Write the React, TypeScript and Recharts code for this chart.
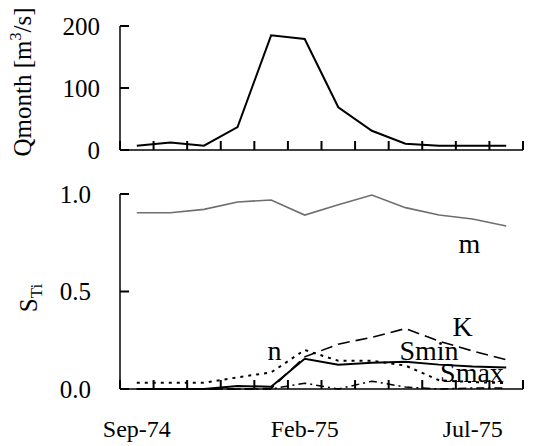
import { LineChart, Line, XAxis, YAxis, ReferenceDot, ReferenceLine } from "recharts"

const months = ["Sep-74", "Oct-74", "Nov-74", "Dec-74", "Jan-75", "Feb-75", "Mar-75", "Apr-75", "May-75", "Jun-75", "Jul-75", "Aug-75"]
const shownMonths = ["Sep-74", "Feb-75", "Jul-75"]

// monthly discharge [m3/s]
const qmonth = [7, 12, 7, 37, 185, 179, 69, 31, 10, 7, 7, 7]

// total sensitivity indices per parameter
const mIdx = [0.904, 0.904, 0.921, 0.959, 0.969, 0.892, 0.945, 0.995, 0.93, 0.892, 0.872, 0.836]
const kIdx = [0, 0, 0, 0, 0.003, 0.165, 0.23, 0.265, 0.31, 0.245, 0.195, 0.15]
const nIdx = [0.032, 0.032, 0.032, 0.06, 0.085, 0.2, 0.145, 0.145, 0.12, 0.045, 0.035, 0.03]
const sminIdx = [0, 0, 0, 0.015, 0.012, 0.155, 0.125, 0.135, 0.14, 0.125, 0.115, 0.11]
const smaxIdx = [0, 0, 0, 0, 0, 0.03, 0, 0.04, 0.01, 0, 0.005, 0.005]

const qTicks = [0, 100, 200]
const sTicks = [0, 0.5, 1]

const font = "'Liberation Serif', 'Times New Roman', serif"
const bandTicks = [...months.map((_, i) => i), months.length]
const labelTicks = shownMonths.map((mo) => months.indexOf(mo) + 0.5)

const qData = months.map((mo, i) => ({ x: i + 0.5, month: mo, q: qmonth[i] }))
const sData = months.map((mo, i) => ({
  x: i + 0.5,
  month: mo,
  m: mIdx[i],
  K: kIdx[i],
  n: nIdx[i],
  Smin: sminIdx[i],
  Smax: smaxIdx[i],
}))

// where the series names sit (x in month bands, y in index units)
const seriesLabels = [
  { name: "m", x: 10.4, y: 0.75 },
  { name: "K", x: 10.2, y: 0.323 },
  { name: "n", x: 4.6, y: 0.2 },
  { name: "Smin", x: 9.2, y: 0.2 },
  { name: "Smax", x: 10.48, y: 0.087 },
]

// inward tick length, in each panel's data units (~9px)
const qTickLen = 14.5
const sTickLen = 0.046
const xTickLen = 0.27

const axisStroke = { stroke: "#000", strokeWidth: 1.5 }
const tickText = { fill: "#000", fontSize: 24, fontFamily: font }

// y tick label left of the axis
function YLabel(props: any) {
  const x = Number(props.x)
  const y = Number(props.y)
  const { payload, gap, digits } = props
  const v = payload.value as number
  return (
    <text x={x - gap} y={y} dy="0.35em" textAnchor="end" fill="#000" fontSize={25} fontFamily={font}>
      {digits ? v.toFixed(digits) : String(v)}
    </text>
  )
}

function QTitle() {
  return (
    <text x={31} y={82} transform="rotate(-90, 31, 82)" textAnchor="middle" fontFamily={font} fontSize={25} fill="#000">
      Qmonth [m
      <tspan fontSize={16} dy={-10}>3</tspan>
      <tspan dy={10}>/s]</tspan>
    </text>
  )
}

function STitle() {
  return (
    <text x={37} y={128} transform="rotate(-90, 37, 128)" textAnchor="middle" fontFamily={font} fontSize={25} fill="#000">
      S<tspan fontSize={17} dy={5}>Ti</tspan>
    </text>
  )
}

function tickMarks(yTicks: number[], yLen: number) {
  const xs = bandTicks.map((t) => (
    <ReferenceLine
      key={`x${t}`}
      segment={[{ x: t, y: 0 }, { x: t, y: yLen }]}
      stroke="#000"
      strokeWidth={2}
      ifOverflow="visible"
    />
  ))
  const ys = yTicks.map((t) => (
    <ReferenceLine
      key={`y${t}`}
      segment={[{ x: 0, y: t }, { x: xTickLen, y: t }]}
      stroke="#000"
      strokeWidth={2}
      ifOverflow="visible"
    />
  ))
  return [...xs, ...ys]
}

export default function App() {
  return (
    <div style={{ position: "absolute", left: 0, top: 0, width: 534, height: 446, background: "#fff" }}>
      <div style={{ position: "absolute", left: 0, top: 0 }}>
        <LineChart width={534} height={175} data={qData} margin={{ top: 26, right: 11, bottom: 0, left: 0 }}>
          <XAxis
            type="number"
            dataKey="x"
            domain={[0, 12]}
            ticks={bandTicks}
            interval={0}
            tick={false}
            height={25}
            axisLine={axisStroke}
            tickLine={false}
          />
          <YAxis
            type="number"
            domain={[0, 200]}
            ticks={qTicks}
            interval={0}
            width={120}
            tickSize={0}
            tickMargin={0}
            tick={(p: any) => <YLabel {...p} gap={20} digits={0} />}
            axisLine={axisStroke}
            tickLine={false}
            label={<QTitle />}
          />
          {tickMarks(qTicks, qTickLen)}
          <Line dataKey="q" stroke="#000" strokeWidth={2} dot={false} isAnimationActive={false} />
        </LineChart>
      </div>
      <div style={{ position: "absolute", left: 0, top: 170 }}>
        <LineChart width={534} height={276} data={sData} margin={{ top: 24, right: 11, bottom: 0, left: 0 }}>
          <XAxis
            type="number"
            dataKey="x"
            domain={[0, 12]}
            ticks={bandTicks}
            interval={0}
            tick={false}
            height={1}
            axisLine={axisStroke}
            tickLine={false}
          />
          <XAxis
            xAxisId="lbl"
            type="number"
            dataKey="x"
            domain={[0, 12]}
            ticks={labelTicks}
            interval={0}
            tickFormatter={(v: number) => months[Math.floor(v)]}
            height={56}
            tickSize={0}
            tickMargin={30}
            axisLine={false}
            tickLine={false}
            tick={tickText}
          />
          <YAxis
            type="number"
            domain={[0, 1]}
            ticks={sTicks}
            interval={0}
            width={120}
            tickSize={0}
            tickMargin={0}
            tick={(p: any) => <YLabel {...p} gap={29} digits={1} />}
            axisLine={axisStroke}
            tickLine={false}
            label={<STitle />}
          />
          {tickMarks(sTicks, sTickLen)}
          <Line dataKey="m" stroke="#6e6e6e" strokeWidth={1.6} dot={false} isAnimationActive={false} />
          <Line dataKey="Smax" stroke="#000" strokeWidth={1.5} strokeDasharray="8 4 2 4" dot={false} isAnimationActive={false} />
          <Line dataKey="n" stroke="#000" strokeWidth={2} strokeDasharray="3 5" dot={false} isAnimationActive={false} />
          <Line dataKey="K" stroke="#000" strokeWidth={1.6} strokeDasharray="12 6" dot={false} isAnimationActive={false} />
          <Line dataKey="Smin" stroke="#000" strokeWidth={2} dot={false} isAnimationActive={false} />
          {seriesLabels.map((l) => (
            <ReferenceDot
              key={l.name}
              x={l.x}
              y={l.y}
              r={0}
              fill="none"
              stroke="none"
              label={{ value: l.name, position: "center", fill: "#000", fontSize: 28, fontFamily: font }}
            />
          ))}
        </LineChart>
      </div>
    </div>
  )
}
